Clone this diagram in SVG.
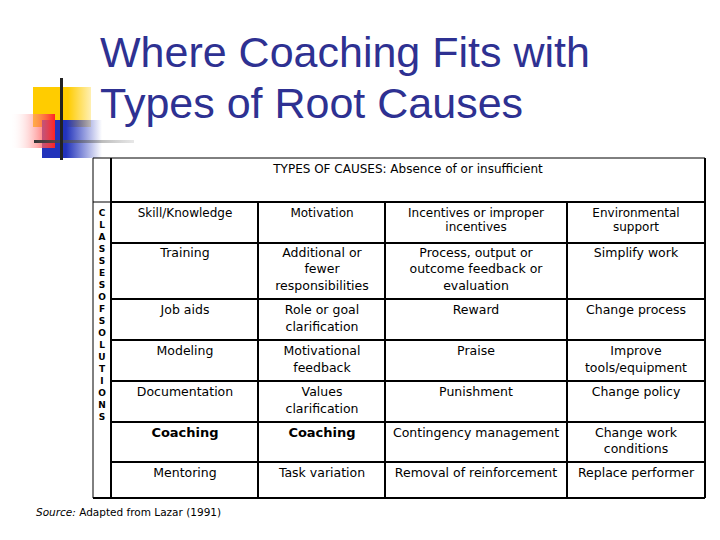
<svg xmlns="http://www.w3.org/2000/svg" width="720" height="540" viewBox="0 0 720 540">
<style>
text{font-family:"DejaVu Sans","Liberation Sans",sans-serif;fill:#000}
.t{font-family:"Liberation Sans",sans-serif;font-size:43px;fill:#2e3192}
.c{font-size:12.5px;text-anchor:middle}
.h{font-size:12px;text-anchor:middle}
.v{font-size:9px;font-weight:bold;text-anchor:middle}
.g line{stroke:#000;stroke-width:2}
</style>
<defs>
<linearGradient id="red" x1="0" x2="1"><stop offset="0" stop-color="#fff" stop-opacity="0"/><stop offset="1" stop-color="#f22"/></linearGradient>
<linearGradient id="blue" x1="0" x2="1"><stop offset="0.4" stop-color="#2233bb"/><stop offset="1" stop-color="#2233bb" stop-opacity="0"/></linearGradient>
<linearGradient id="yel" x1="0" x2="1"><stop offset="0.6" stop-color="#ffcc00"/><stop offset="1" stop-color="#ffcc00" stop-opacity="0.3"/></linearGradient>
<linearGradient id="hl" x1="0" x2="1"><stop offset="0" stop-color="#333"/><stop offset="1" stop-color="#888" stop-opacity="0.2"/></linearGradient>
</defs>
<g id="decor">
<rect x="33" y="87" width="58" height="40" fill="url(#yel)"/>
<rect x="42" y="120" width="60" height="38" fill="url(#blue)"/>
<rect x="10" y="114" width="45" height="34" fill="url(#red)"/>
<rect x="34" y="140" width="100" height="3" fill="url(#hl)"/>
<rect x="60" y="78" width="3" height="82" fill="#222"/>
</g>
<g id="title">
<text class="t" x="100" y="67">Where Coaching Fits with</text>
<text class="t" x="100" y="118">Types of Root Causes</text>
</g>
<g id="table" class="g">
<line x1="93" y1="158" x2="93" y2="498" style="stroke-width:1"/>
<line x1="93" y1="158" x2="705" y2="158" style="stroke-width:1"/>
<line x1="111" y1="158" x2="111" y2="498"/>
<line x1="705" y1="158" x2="705" y2="498"/>
<line x1="111" y1="202" x2="705" y2="202"/>
<line x1="93" y1="498" x2="705" y2="498"/>
<line x1="93" y1="202" x2="111" y2="202" style="stroke-width:1"/>
<line x1="258" y1="202" x2="258" y2="498"/>
<line x1="385" y1="202" x2="385" y2="498"/>
<line x1="567" y1="202" x2="567" y2="498"/>
<line x1="111" y1="243" x2="705" y2="243"/>
<line x1="111" y1="299" x2="705" y2="299"/>
<line x1="111" y1="340" x2="705" y2="340"/>
<line x1="111" y1="381" x2="705" y2="381"/>
<line x1="111" y1="422" x2="705" y2="422"/>
<line x1="111" y1="462" x2="705" y2="462"/>
</g>
<g id="labels">
<text class="h" x="408" y="173">TYPES OF CAUSES: Absence of or insufficient</text>
<text class="v" x="102"><tspan x="102" y="216">C</tspan><tspan x="102" y="228">L</tspan><tspan x="102" y="240">A</tspan><tspan x="102" y="252">S</tspan><tspan x="102" y="264">S</tspan><tspan x="102" y="276">E</tspan><tspan x="102" y="288">S</tspan><tspan x="102" y="300">O</tspan><tspan x="102" y="312">F</tspan><tspan x="102" y="324">S</tspan><tspan x="102" y="336">O</tspan><tspan x="102" y="348">L</tspan><tspan x="102" y="360">U</tspan><tspan x="102" y="372">T</tspan><tspan x="102" y="384">I</tspan><tspan x="102" y="396">O</tspan><tspan x="102" y="408">N</tspan><tspan x="102" y="420">S</tspan></text>
<text class="h" x="185" y="217">Skill/Knowledge</text>
<text class="h" x="322" y="217">Motivation</text>
<text class="h" x="476" y="217">Incentives or improper</text>
<text class="h" x="476" y="231">incentives</text>
<text class="h" x="636" y="217">Environmental</text>
<text class="h" x="636" y="231">support</text>
<text class="c" x="185" y="257">Training</text>
<text class="c" x="322" y="257">Additional or</text>
<text class="c" x="322" y="273">fewer</text>
<text class="c" x="322" y="290">responsibilities</text>
<text class="c" x="476" y="257">Process, output or</text>
<text class="c" x="476" y="273">outcome feedback or</text>
<text class="c" x="476" y="290">evaluation</text>
<text class="c" x="636" y="257">Simplify work</text>
<text class="c" x="185" y="314">Job aids</text>
<text class="c" x="322" y="314">Role or goal</text>
<text class="c" x="322" y="331">clarification</text>
<text class="c" x="476" y="314">Reward</text>
<text class="c" x="636" y="314">Change process</text>
<text class="c" x="185" y="355">Modeling</text>
<text class="c" x="322" y="355">Motivational</text>
<text class="c" x="322" y="372">feedback</text>
<text class="c" x="476" y="355">Praise</text>
<text class="c" x="636" y="355">Improve</text>
<text class="c" x="636" y="372">tools/equipment</text>
<text class="c" x="185" y="396">Documentation</text>
<text class="c" x="322" y="396">Values</text>
<text class="c" x="322" y="413">clarification</text>
<text class="c" x="476" y="396">Punishment</text>
<text class="c" x="636" y="396">Change policy</text>
<text class="c" x="185" y="437" style="font-weight:bold;font-size:13px">Coaching</text>
<text class="c" x="322" y="437" style="font-weight:bold;font-size:13px">Coaching</text>
<text class="c" x="476" y="437">Contingency management</text>
<text class="c" x="636" y="437">Change work</text>
<text class="c" x="636" y="453">conditions</text>
<text class="c" x="185" y="477">Mentoring</text>
<text class="c" x="322" y="477">Task variation</text>
<text class="c" x="476" y="477">Removal of reinforcement</text>
<text class="c" x="636" y="477">Replace performer</text>
<text x="36" y="516" style="font-size:10.5px"><tspan font-style="italic">Source:</tspan> Adapted from Lazar (1991)</text>
</g>
</svg>
